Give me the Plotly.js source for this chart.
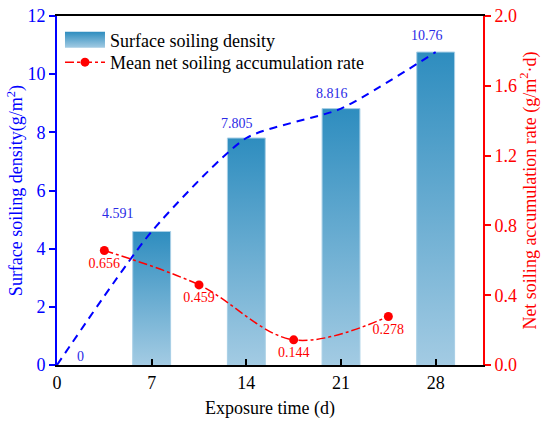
<!DOCTYPE html>
<html>
<head>
<meta charset="utf-8">
<script src="https://cdn.plot.ly/plotly-3.0.1.min.js"></script>
<style>body{margin:0;padding:0;background:#fff}#chart{width:550px;height:423px}</style>
</head>
<body>
<div id="chart"></div>
<script>
// Data
const days = [7, 14, 21, 28];
const density = [4.591, 7.805, 8.816, 10.76];
const curveDays = [0, 7, 14, 21, 28];
const curveDensity = [0, 4.591, 7.805, 8.816, 10.76];
const curveLabels = ['0', '4.591', '7.805', '8.816', '10.76'];
const rateDays = [3.5, 10.5, 17.5, 24.5];
const rate = [0.656, 0.459, 0.144, 0.278];
const rateLabels = ['0.656', '0.459', '0.144', '0.278'];
const xTicks = [0, 7, 14, 21, 28];

const FONT = 'Liberation Serif, Times New Roman, serif';
const BLUE = '#0000ff';
const LBLUE = '#2a2ae6';
const RED = '#ff0000';

const traces = [
  {
    type: 'bar', x: days, y: density, width: 2.8,
    name: 'Surface soiling density',
    marker: {color: '#5fa3cc', line: {color: '#a8cfe6', width: 1}},
    hoverinfo: 'skip'
  },
  {
    type: 'scatter', mode: 'lines', x: curveDays, y: curveDensity,
    line: {color: BLUE, width: 2, dash: '8px,6px', shape: 'spline', smoothing: 0.6},
    showlegend: false, hoverinfo: 'skip', cliponaxis: false
  },
  {
    type: 'scatter', mode: 'lines+markers+text', x: rateDays, y: rate, yaxis: 'y2',
    name: 'Mean net soiling accumulation rate',
    line: {color: RED, width: 1.5, dash: 'dashdot', shape: 'spline', smoothing: 1},
    marker: {color: RED, size: 9},
    text: rateLabels, textposition: 'bottom center',
    textfont: {family: FONT, size: 14, color: RED},
    hoverinfo: 'skip'
  }
];

const shifts = [[23, 9], [-34, 18], [-9, 15], [-9, 15], [-9, 17]];
const annotations = curveDays.map((d, i) => ({
  x: d, y: curveDensity[i], xref: 'x', yref: 'y', text: curveLabels[i],
  showarrow: false, xshift: shifts[i][0], yshift: shifts[i][1],
  font: {family: FONT, size: 14, color: LBLUE}
}));

const layout = {
  width: 550, height: 423,
  margin: {l: 57, r: 67, t: 16, b: 58},
  paper_bgcolor: '#fff', plot_bgcolor: '#fff',
  font: {family: FONT, size: 18, color: '#000'},
  showlegend: true,
  legend: {x: 0.007, y: 0.984, xanchor: 'left', yanchor: 'top', bgcolor: 'rgba(0,0,0,0)',
           font: {family: FONT, size: 18, color: '#000'}, tracegroupgap: 0, itemwidth: 40},
  bargap: 0,
  xaxis: {
    range: [0, 31.5], tickvals: xTicks, ticktext: xTicks.map(String),
    showgrid: false, zeroline: false,
    showline: true, linecolor: '#000', linewidth: 2, mirror: true,
    ticks: 'inside', ticklen: 6, tickwidth: 2, tickcolor: '#000',
    tickfont: {family: FONT, size: 18, color: '#000'},
    title: {text: 'Exposure time (d)', font: {family: FONT, size: 18, color: '#000'}, standoff: 10}
  },
  yaxis: {
    range: [0, 12], dtick: 2, showgrid: false, zeroline: false,
    showline: true, linecolor: BLUE, linewidth: 2,
    ticks: 'outside', ticklen: 6, tickwidth: 2, tickcolor: BLUE,
    tickfont: {family: FONT, size: 18, color: BLUE},
    title: {text: 'Surface soiling density(g/m<sup>2</sup>)', font: {family: FONT, size: 18, color: BLUE}, standoff: 0}
  },
  yaxis2: {
    range: [0, 2], tickvals: [0, 0.4, 0.8, 1.2, 1.6, 2.0], ticktext: ['0.0', '0.4', '0.8', '1.2', '1.6', '2.0'],
    overlaying: 'y', side: 'right', showgrid: false, zeroline: false,
    showline: true, linecolor: RED, linewidth: 2,
    ticks: 'outside', ticklen: 6, tickwidth: 2, tickcolor: RED,
    tickfont: {family: FONT, size: 18, color: RED},
    title: {text: 'Net soiling accumulation rate (g/m<sup>2</sup>·d)', font: {family: FONT, size: 18, color: RED}, standoff: 2}
  },
  annotations: annotations
};

Plotly.newPlot('chart', traces, layout, {displayModeBar: false, staticPlot: true}).then(gd => {
  const NS = 'http://www.w3.org/2000/svg';
  const svg = gd.querySelector('.main-svg');
  let defs = svg.querySelector('defs');
  if (!defs) { defs = document.createElementNS(NS, 'defs'); svg.insertBefore(defs, svg.firstChild); }
  const g = document.createElementNS(NS, 'linearGradient');
  g.setAttribute('id', 'barGrad');
  g.setAttribute('x1', '0'); g.setAttribute('y1', '0'); g.setAttribute('x2', '0'); g.setAttribute('y2', '1');
  [['0', '#2e8dbf'], ['1', '#a3cbe3']].forEach(([o, c]) => {
    const s = document.createElementNS(NS, 'stop');
    s.setAttribute('offset', o); s.setAttribute('stop-color', c);
    g.appendChild(s);
  });
  defs.appendChild(g);
  gd.querySelectorAll('.bars .point path').forEach(p => { p.style.fill = 'url(#barGrad)'; });
  gd.querySelectorAll('.legend .traces').forEach((t, i) => {
    if (i === 0) {
      const bp = t.querySelector('.legendpoints path');
      if (bp) {
        bp.setAttribute('d', 'M-20,-8h40v16h-40z');
        bp.style.fill = 'url(#barGrad)';
        bp.style.stroke = 'none';
      }
    } else {
      const tr = t.getAttribute('transform') || '';
      const m = tr.match(/translate\(([-\d.]+)[ ,]+([-\d.]+)\)/);
      if (m) t.setAttribute('transform', 'translate(' + m[1] + ',' + (parseFloat(m[2]) - 4) + ')');
    }
  });
});
</script>
</body>
</html>
